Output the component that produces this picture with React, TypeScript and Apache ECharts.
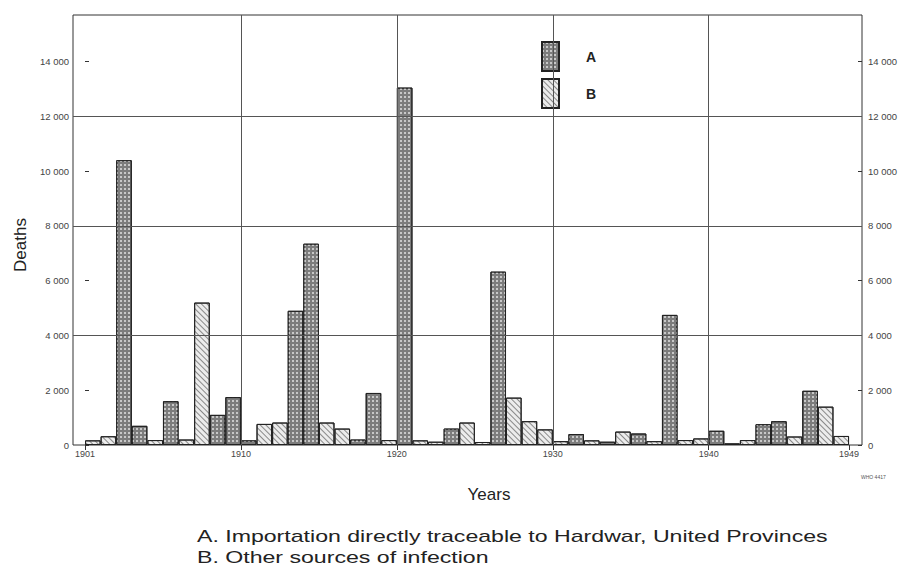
import React, { useEffect, useRef } from "react";
import * as echarts from "echarts";

// Years 1901–1949, one column per year
const years: number[] = Array.from({ length: 49 }, (_, i) => 1901 + i);

// A. Importation directly traceable to Hardwar (null = no column for that year)
const seriesA: (number | null)[] = [
  null, null, 10400, 700, null, 1600, null, null, 1100, 1750,
  170, null, null, 4900, 7350, null, null, 200, 1900, null,
  13050, null, null, 600, null, null, 6330, null, null, null,
  null, 400, null, 120, null, 420, null, 4750, null, null,
  520, null, null, 760, 870, null, 1980, null, null,
];

// B. Other sources of infection
const seriesB: (number | null)[] = [
  170, 320, null, null, 180, null, 200, 5200, null, null,
  null, 770, 820, null, null, 820, 600, null, null, 180,
  null, 170, 120, null, 820, 110, null, 1730, 870, 570,
  140, null, 170, null, 490, null, 140, null, 180, 240,
  null, 60, 180, null, null, 310, null, 1400, 330,
];

// Axis ticks
const xTickPos = [0, 10, 20, 30, 40, 49];
const xTickLabels = ["1901", "1910", "1920", "1930", "1940", "1949"];
const yTicks = [0, 2000, 4000, 6000, 8000, 10000, 12000, 14000];
const yRules = [4000, 8000, 12000];
const xRules = [10, 20, 30, 40];

const captionA = "A. Importation directly traceable to Hardwar, United Provinces";
const captionB = "B. Other sources of infection";

const fmtY = (v: number) => (v === 0 ? "0" : `${Math.floor(v / 1000)} 000`);

export default function App() {
  const ref = useRef<HTMLDivElement>(null);

  useEffect(() => {
    if (!ref.current) return;
    const chart = echarts.init(ref.current, undefined, { renderer: "svg" });

    const toPairs = (arr: (number | null)[]) =>
      arr.map((v, i) => [i + 0.5, v == null ? "-" : v]);

    const axisFont = { fontFamily: "Liberation Sans", fontSize: 9.5, color: "#444" };

    const yAxisBase = {
      type: "value",
      min: 0,
      max: 15700,
      axisLine: { show: false },
      splitLine: { show: false },
      axisTick: {
        show: true,
        inside: true,
        length: 4,
        customValues: yTicks,
        lineStyle: { color: "#333" },
      },
    };

    const caption = (text: string, y: number) => ({
      type: "text",
      x: 197,
      y,
      scaleX: 1.36,
      style: {
        text,
        fontFamily: "Liberation Sans",
        fontSize: 17,
        fill: "#222",
        textAlign: "left",
        textVerticalAlign: "middle",
      },
    });

    chart.setOption({
      animation: false,
      backgroundColor: "#fff",
      aria: { enabled: true, decal: { show: true } },
      grid: {
        left: 73,
        top: 15,
        width: 789,
        height: 430,
        show: true,
        borderColor: "#333",
        borderWidth: 1,
        backgroundColor: "transparent",
      },
      legend: {
        data: ["A", "B"],
        orient: "vertical",
        left: 541,
        top: 41,
        padding: 0,
        itemWidth: 17,
        itemHeight: 29,
        itemGap: 6,
        icon: "rect",
        selectedMode: false,
        textStyle: {
          fontFamily: "Liberation Sans",
          fontWeight: "bold",
          fontSize: 14,
          color: "#222",
          padding: [0, 0, 0, 22],
        },
      },
      xAxis: {
        type: "value",
        min: -0.77,
        max: 49.83,
        axisLine: { show: false },
        splitLine: { show: false },
        axisTick: {
          show: true,
          length: 5,
          customValues: xTickPos,
          lineStyle: { color: "#333" },
        },
        axisLabel: {
          ...axisFont,
          fontSize: 9,
          margin: 4,
          customValues: xTickPos,
          formatter: (v: number) => xTickLabels[xTickPos.indexOf(Math.round(v))] ?? "",
        },
      },
      yAxis: [
        {
          ...yAxisBase,
          position: "left",
          axisLabel: { ...axisFont, margin: 4, customValues: yTicks, formatter: fmtY },
        },
        {
          ...yAxisBase,
          position: "right",
          axisLabel: { ...axisFont, margin: 6, customValues: yTicks, formatter: fmtY },
        },
      ],
      series: [
        {
          name: "rules",
          type: "line",
          z: 0,
          data: [],
          silent: true,
          markLine: {
            silent: true,
            symbol: "none",
            label: { show: false },
            lineStyle: { color: "#555", width: 1, type: "solid" },
            data: [
              ...yRules.map((v) => ({ yAxis: v })),
              ...xRules.map((v) => ({ xAxis: v })),
            ],
          },
        },
        {
          name: "A",
          type: "bar",
          barWidth: 15.6,
          barGap: "-100%",
          z: 2,
          data: toPairs(seriesA),
          itemStyle: {
            color: "#7c7c7c",
            borderColor: "#222",
            borderWidth: 1,
            decal: {
              symbol: "rect",
              symbolSize: 1,
              color: "rgba(225,225,225,0.75)",
              dashArrayX: [2, 2],
              dashArrayY: [2, 2],
              rotation: 0,
            },
          },
        },
        {
          name: "B",
          type: "bar",
          barWidth: 15.6,
          barGap: "-100%",
          z: 2,
          data: toPairs(seriesB),
          itemStyle: {
            color: "#ececec",
            borderColor: "#222",
            borderWidth: 1,
            decal: {
              symbol: "rect",
              symbolSize: 1,
              color: "rgba(70,70,70,0.6)",
              dashArrayX: [1, 0],
              dashArrayY: [1, 3],
              rotation: Math.PI / 4,
            },
          },
        },
      ],
      graphic: [
        {
          type: "text",
          x: 20,
          y: 245,
          rotation: Math.PI / 2,
          style: {
            text: "Deaths",
            fontFamily: "Liberation Sans",
            fontSize: 17,
            fill: "#222",
            textAlign: "center",
            textVerticalAlign: "middle",
          },
        },
        {
          type: "text",
          x: 489,
          y: 494,
          style: {
            text: "Years",
            fontFamily: "Liberation Sans",
            fontSize: 17,
            fill: "#222",
            textAlign: "center",
            textVerticalAlign: "middle",
          },
        },
        {
          type: "text",
          x: 861,
          y: 477,
          style: {
            text: "WHO 4417",
            fontFamily: "Liberation Sans",
            fontSize: 5,
            fill: "#555",
            textAlign: "left",
            textVerticalAlign: "middle",
          },
        },
        caption(captionA, 536),
        caption(captionB, 557),
      ],
    });

    return () => chart.dispose();
  }, []);

  return (
    <div
      ref={ref}
      style={{ position: "fixed", left: 0, top: 0, width: 904, height: 567 }}
    />
  );
}
